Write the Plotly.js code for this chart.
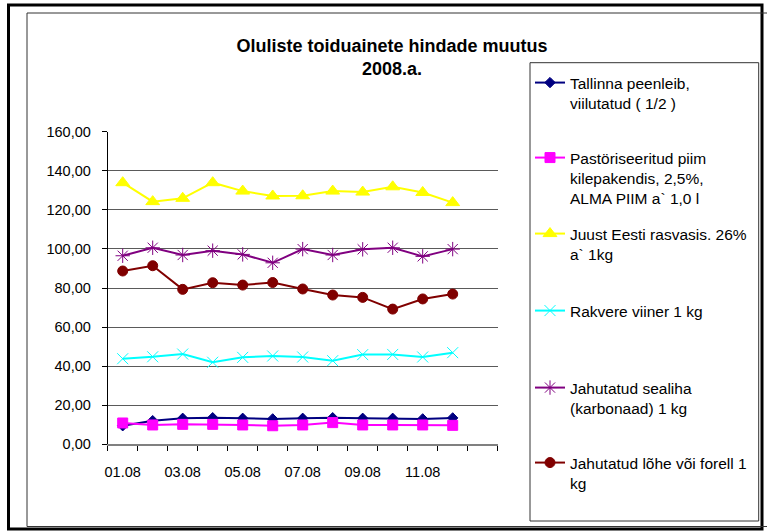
<!DOCTYPE html>
<html>
<head>
<meta charset="utf-8">
<script src="https://cdn.plot.ly/plotly-3.0.1.min.js"></script>
<style>html,body{margin:0;padding:0;background:#fff;}#chart{width:767px;height:531px;}</style>
</head>
<body>
<div id="chart"></div>
<script>
// ---- data ----
const categories = ['01.08','02.08','03.08','04.08','05.08','06.08','07.08','08.08','09.08','10.08','11.08','12.08','13.08'];
const tickLabels = ['01.08','03.08','05.08','07.08','09.08','11.08'];
const seriesNames = [
  'Tallinna peenleib,<br>viilutatud ( 1/2 )',
  'Pastöriseeritud piim<br>kilepakendis, 2,5%,<br>ALMA PIIM a` 1,0 l',
  'Juust Eesti rasvasis. 26%<br>a` 1kg',
  'Rakvere viiner 1 kg',
  'Jahutatud sealiha<br>(karbonaad) 1 kg',
  'Jahutatud lõhe või forell 1<br>kg'
];
const leib    = [9.5, 12.1, 13.3, 13.6, 13.3, 13.0, 13.3, 13.6, 13.3, 13.3, 13.0, 13.5];
const piim    = [10.9, 9.9, 10.2, 10.2, 9.9, 9.5, 9.9, 11.1, 9.9, 9.9, 9.9, 9.7];
const juust   = [133.9, 124.2, 125.9, 133.9, 129.6, 127.1, 127.2, 129.6, 129.1, 131.8, 128.9, 123.7];
const viiner  = [43.8, 44.8, 46.2, 42.0, 44.5, 45.2, 44.7, 42.8, 45.9, 46.0, 44.7, 46.9];
const sealiha = [96.5, 100.6, 96.9, 99.1, 97.2, 92.9, 99.9, 96.9, 99.8, 100.6, 96.2, 99.9];
const lohe    = [88.7, 91.4, 79.3, 82.7, 81.5, 82.8, 79.5, 76.4, 75.2, 69.2, 74.4, 76.9];

// ---- helpers ----
const W = 767, H = 531;
const px = v => v / W;
const py = v => 1 - v / H;
const xIdx = arr => arr.map((_, i) => i);

const styles = [
  {color:'#000080', symbol:'diamond', size:8, lineColor:'#000080'},
  {color:'#FF00FF', symbol:'square', size:10, lineColor:'#FF00FF'},
  {color:'#FFFF00', symbol:'triangle-up', size:12, lineColor:'#FFFF00'},
  {color:'#00FFFF', symbol:'x-thin-open', size:11, lineColor:'#00FFFF'},
  {color:'#800080', symbol:'asterisk-open', size:12, lineColor:'#800080'},
  {color:'#800000', symbol:'circle', size:10, lineColor:'#800000'}
];
const values = [leib, piim, juust, viiner, sealiha, lohe];
const legendTops = [84, 159, 235, 312, 389, 464];

const traces = values.map((vals, k) => ({
  type:'scatter', mode:'lines+markers',
  x: xIdx(vals), y: vals,
  name: seriesNames[k],
  legend: k === 0 ? 'legend' : 'legend' + (k + 1),
  line:{color:styles[k].color, width:2},
  marker:{color:styles[k].color, symbol:styles[k].symbol, size:styles[k].size,
          line:{color:styles[k].lineColor, width:1}},
  hoverinfo:'skip'
}));

const font = 'Liberation Sans, Arial, sans-serif';
const layout = {
  width:W, height:H,
  margin:{l:0, r:0, t:0, b:0},
  paper_bgcolor:'#fff', plot_bgcolor:'rgba(0,0,0,0)',
  font:{family:font, color:'#000'},
  separators:', ',
  showlegend:true,
  title:{
    text:'<b>Oluliste toiduainete hindade muutus<br>2008.a.</b>',
    font:{family:font, size:18, color:'#000'},
    x:px(392), xanchor:'center', xref:'paper',
    y:py(52), yanchor:'top', yref:'paper'
  },
  xaxis:{
    type:'linear', domain:[px(107.7), px(497.7)],
    range:[-0.5, categories.length - 0.5],
    tickmode:'array',
    tickvals: tickLabels.map(t => categories.indexOf(t)),
    ticktext: tickLabels,
    ticks:'', showgrid:false, zeroline:false,
    showline:true, linecolor:'#808080', linewidth:1.5,
    tickfont:{family:font, size:14.5, color:'#000'},
    ticklabelstandoff:14,
    minor:{tickmode:'linear', tick0:-0.5, dtick:1, ticks:'outside', ticklen:5,
           tickcolor:'#000', tickwidth:1, showgrid:false},
    fixedrange:true
  },
  yaxis:{
    domain:[py(444.3), py(131.7)],
    range:[0, 160], dtick:20, tick0:0,
    tickformat:'.2f',
    ticks:'outside', ticklen:5, tickcolor:'#000',
    showgrid:true, gridcolor:'#5a5a5a', gridwidth:1,
    zeroline:false,
    showline:true, linecolor:'#000', linewidth:1,
    tickfont:{family:font, size:14.5, color:'#000'},
    ticklabelstandoff:8,
    fixedrange:true
  },
  shapes:[
    {type:'rect', xref:'paper', yref:'paper', x0:px(8.5), x1:px(762), y0:py(5), y1:py(529),
     line:{color:'#000', width:3}, fillcolor:'rgba(0,0,0,0)'},
    {type:'rect', xref:'paper', yref:'paper', x0:px(27), x1:px(775), y0:py(13), y1:py(526.5),
     line:{color:'#333', width:1}, fillcolor:'rgba(0,0,0,0)'},
    {type:'rect', xref:'paper', yref:'paper', x0:px(530), x1:px(758.7), y0:py(62.7), y1:py(521),
     line:{color:'#333', width:1}, fillcolor:'rgba(0,0,0,0)'}
  ]
};

legendTops.forEach((t, k) => {
  const key = k === 0 ? 'legend' : 'legend' + (k + 1);
  layout[key] = {
    x:px(530), xanchor:'left', xref:'paper',
    y:py(t - 18), yanchor:'top', yref:'paper',
    bgcolor:'rgba(0,0,0,0)', borderwidth:0,
    font:{family:font, size:15.5, color:'#000'},
    valign:'top', itemwidth:30, tracegroupgap:0,
    itemclick:false, itemdoubleclick:false
  };
});

Plotly.newPlot('chart', traces, layout, {staticPlot:true, displayModeBar:false});
</script>
</body>
</html>
